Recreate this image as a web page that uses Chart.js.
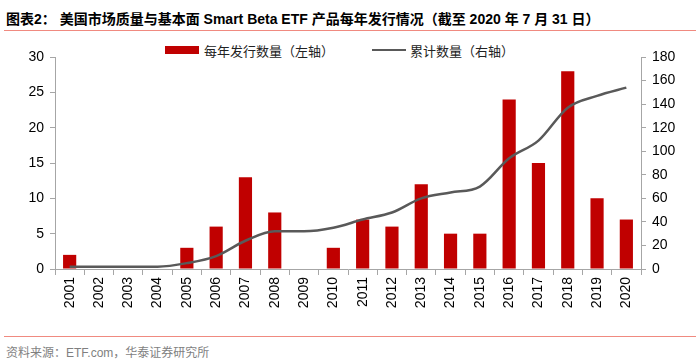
<!DOCTYPE html>
<html>
<head>
<meta charset="utf-8">
<script src="https://cdn.jsdelivr.net/npm/chart.js@4"></script>
<style>
  body { margin: 0; width: 700px; height: 363px; background: #fff; position: relative; overflow: hidden; font-family: 'Liberation Sans', 'Noto Sans CJK SC', sans-serif; }
  #title { position: absolute; left: 6px; top: 8px; font-size: 14px; font-weight: bold; color: #000; white-space: nowrap; font-family: 'Liberation Sans', 'Noto Sans CJK SC', sans-serif; }
  .rule { position: absolute; left: 4px; width: 692px; height: 1px; background: #F08A80; }
  #legend { position: absolute; top: 41px; left: 165px; font-size: 13px; color: #222; font-family: 'Noto Sans CJK SC', sans-serif; white-space: nowrap; }
  #legend span { position: absolute; top: 0; }
  .swatch { position: absolute; }
  #source { position: absolute; left: 6px; top: 343px; font-size: 12px; color: #7f7f7f; white-space: nowrap; font-family: 'Liberation Sans', 'Noto Sans CJK SC', sans-serif; }
  #wrap { position: absolute; left: 0; top: 40px; width: 700px; height: 295px; }
</style>
</head>
<body>
<div id="title">图表2：  美国市场质量与基本面 Smart Beta ETF 产品每年发行情况（截至 2020 年 7 月 31 日）</div>
<div class="rule" style="top:30px"></div>
<div id="legend">
  <div class="swatch" style="left:0;top:5px;width:34px;height:8px;background:#C00000"></div>
  <span style="left:39px">每年发行数量（左轴）</span>
  <div class="swatch" style="left:207px;top:8px;width:34px;height:2px;background:#595959"></div>
  <span style="left:245px">累计数量（右轴）</span>
</div>
<div id="wrap"><canvas id="myChart"></canvas></div>
<div class="rule" style="top:336px"></div>
<div id="source">资料来源：ETF.com，华泰证券研究所</div>

<script>
'use strict';
let years = ['2001','2002','2003','2004','2005','2006','2007','2008','2009','2010',
  '2011','2012','2013','2014','2015','2016','2017','2018','2019','2020'];
let yearly = [2, 0, 0, 0, 3, 6, 13, 8, 0, 3, 7, 6, 12, 5, 5, 24, 15, 28, 10, 7];
let total = [2, 2, 2, 2, 5, 11, 24, 32, 32, 35, 42, 48, 60, 65, 70, 94, 109, 137, 147, 154];
let leftTicks = [0, 30, 5];
let rightTicks = [0, 180, 20];

let axisColor = '#A6A6A6';
let tickFont = { family: 'Liberation Sans', size: 14 };

function chartRender() {
  let ctx = document.getElementById('myChart').getContext('2d');
  let myChart = new Chart(ctx, {
    data: {
      labels: years,
      datasets: [{
        type: 'line',
        label: '累计数量（右轴）',
        data: total,
        yAxisID: 'y1',
        borderColor: '#595959',
        borderWidth: 2.5,
        pointRadius: 0,
        cubicInterpolationMode: 'monotone',
        order: 0
      }, {
        type: 'bar',
        label: '每年发行数量（左轴）',
        data: yearly,
        yAxisID: 'y',
        backgroundColor: '#C00000',
        barPercentage: 0.9,
        categoryPercentage: 0.5,
        order: 1
      }]
    },
    options: {
      responsive: true,
      maintainAspectRatio: false,
      animation: false,
      layout: { padding: { top: 17, left: 0, right: 0, bottom: 0 } },
      plugins: { legend: { display: false }, tooltip: { enabled: false } },
      scales: {
        x: {
          grid: { drawOnChartArea: false, tickLength: 6, color: axisColor },
          border: { color: axisColor },
          ticks: { color: '#000', font: tickFont, minRotation: 90, maxRotation: 90, padding: 2 },
          afterFit: function (s) { s.height = 66; }
        },
        y: {
          position: 'left',
          min: leftTicks[0], max: leftTicks[1],
          grid: { drawOnChartArea: false, tickLength: 5, color: axisColor },
          border: { color: axisColor },
          ticks: { stepSize: leftTicks[2], color: '#000', font: tickFont, padding: 6 },
          afterFit: function (s) { s.width = 55; }
        },
        y1: {
          position: 'right',
          min: rightTicks[0], max: rightTicks[1],
          grid: { drawOnChartArea: false, tickLength: 5, color: axisColor },
          border: { color: axisColor },
          ticks: { stepSize: rightTicks[2], color: '#000', font: tickFont, padding: 6 },
          afterFit: function (s) { s.width = 59; }
        }
      }
    }
  });
}
chartRender();
</script>
</body>
</html>
